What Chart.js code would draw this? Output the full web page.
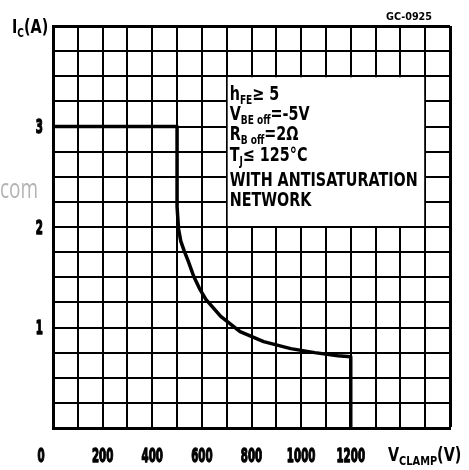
<!DOCTYPE html>
<html><head><meta charset="utf-8">
<script src="https://cdn.jsdelivr.net/npm/chart.js@4.4.0/dist/chart.umd.min.js"></script>
<style>html,body{margin:0;padding:0;background:#fff;overflow:hidden}canvas{display:block}</style>
</head><body>
<canvas id="c" width="469" height="470" style="width:469px;height:470px"></canvas>
<script>
// ---- data ----
const vClamp = [0, 500, 500, 506, 515, 529, 545, 567, 590, 616, 676, 754, 849, 958, 1055, 1148, 1200, 1200];
const iC     = [3.0, 3.0, 2.2, 1.98, 1.86, 1.76, 1.66, 1.51, 1.39, 1.28, 1.11, 0.96, 0.86, 0.79, 0.75, 0.72, 0.71, 0];
const xTickLabels = [0, 200, 400, 600, 800, 1000, 1200];
const yTickLabels = [1, 2, 3];
const noteBox = {x0: 700, x1: 1500, y0: 3.5, y1: 2.0};
const noteLines = [
  [['h', 0], ['FE', 1], ['\u2265 5', 0]],
  [['V', 0], ['BE', 1], [' off', 1], ['=-5V', 0]],
  [['R', 0], ['B', 1], [' off', 1], ['=2\u03A9', 0]],
  [['T', 0], ['J', 1], ['\u2264 125\u00B0C', 0]],
  [['WITH ANTISATURATION', 0]],
  [['NETWORK', 0]]
];
const yTitle = [['I', 0], ['C', 1], ['(A)', 0]];
const xTitle = [['V', 0], ['CLAMP', 1], ['(V)', 0]];
const figCode = 'GC-0925';

const FONT = '"DejaVu Sans Condensed","DejaVu Sans",sans-serif';

function drawRich(ctx, x, base, segs, size, subSize, sx) {
  ctx.save();
  ctx.translate(x, base);
  ctx.scale(sx, 1);
  ctx.fillStyle = '#000';
  ctx.textBaseline = 'alphabetic';
  ctx.textAlign = 'left';
  let cx = 0;
  for (const [t, sub] of segs) {
    const sz = sub ? subSize : size;
    ctx.font = 'bold ' + sz + 'px ' + FONT;
    ctx.fillText(t, cx, sub ? 4 : 0);
    cx += ctx.measureText(t).width;
  }
  ctx.restore();
}
function fitScale(ctx, text, size, target) {
  ctx.font = 'bold ' + size + 'px ' + FONT;
  return target / ctx.measureText(text).width;
}
// narrow tall tick text, anchored by align ('center' or 'right')
function drawTick(ctx, text, x, base, align) {
  const size = 19, sx = 0.6;
  ctx.save();
  ctx.font = 'bold ' + size + 'px ' + FONT;
  const w = ctx.measureText(text).width * sx;
  const left = align === 'right' ? x - w : x - w / 2;
  ctx.translate(left, base);
  ctx.scale(sx, 1);
  ctx.fillStyle = '#000';
  ctx.strokeStyle = '#000';
  ctx.lineWidth = 1.3;
  ctx.lineJoin = 'round';
  ctx.textBaseline = 'alphabetic';
  ctx.textAlign = 'left';
  ctx.fillText(text, 0, 0);
  ctx.strokeText(text, 0, 0);
  ctx.restore();
}

const overlay = {
  id: 'overlay',
  beforeDatasetsDraw(chart) {
    const ctx = chart.ctx, xs = chart.scales.x, ys = chart.scales.y;
    const l = xs.getPixelForValue(noteBox.x0) + 1, r = xs.getPixelForValue(noteBox.x1) - 1;
    const t = ys.getPixelForValue(noteBox.y0) + 1, b = ys.getPixelForValue(noteBox.y1) - 1;
    ctx.save();
    ctx.fillStyle = '#fff';
    ctx.fillRect(l, t, r - l, b - t);
    ctx.restore();
  },
  afterDraw(chart) {
    const ctx = chart.ctx, xs = chart.scales.x, ys = chart.scales.y;
    // tick labels taken from the library's own axis ticks
    xs.ticks.forEach((tk, i) => {
      if (!tk.label) return;
      const px = xs.getPixelForTick(i) + (tk.value === 0 ? -12 : 0);
      drawTick(ctx, String(tk.label), px, 462, 'center');
    });
    ys.ticks.forEach((tk, i) => {
      if (!tk.label) return;
      const py = ys.getPixelForTick(i);
      drawTick(ctx, String(tk.label), 43, py + 6.5, 'right');
    });
    const sx = fitScale(ctx, 'WITH ANTISATURATION', 19, 188);
    const left = xs.getPixelForValue(noteBox.x0) + 3;
    const top = ys.getPixelForValue(noteBox.y0);
    const bases = [24, 44, 64, 85, 110, 130];
    noteLines.forEach((segs, i) => drawRich(ctx, left, top + bases[i], segs, 19, 12, sx));
    // axis titles
    drawRich(ctx, 12, 33, yTitle, 19, 12, sx);
    drawRich(ctx, 388, 461, xTitle, 19, 13, sx);
    // figure code
    const s2 = fitScale(ctx, figCode, 10, 46);
    drawRich(ctx, 386, 20, [[figCode, 0]], 10, 7, s2);
    // watermark fragment
    ctx.save();
    ctx.fillStyle = '#b4b4b4';
    ctx.font = '28px "Open Sans", sans-serif';
    const w = ctx.measureText('com').width;
    ctx.translate(0, 198);
    ctx.scale(38 / w, 1);
    ctx.fillText('com', 0, 0);
    ctx.restore();
  }
};

const edgeW = (c, edge) => (c.tick && c.tick.value === edge ? 3 : 2);

new Chart(document.getElementById('c'), {
  type: 'scatter',
  data: {
    datasets: [{
      data: vClamp.map((v, i) => ({x: v, y: iC[i]})),
      showLine: true,
      borderColor: '#000',
      borderWidth: 3.5,
      pointRadius: 0,
      tension: 0,
      fill: false,
      borderJoinStyle: 'round'
    }]
  },
  options: {
    responsive: false,
    animation: false,
    devicePixelRatio: 1,
    layout: {padding: {top: 26, right: 19, left: 0, bottom: 0}},
    plugins: {legend: {display: false}, tooltip: {enabled: false}},
    scales: {
      x: {
        type: 'linear', min: 0, max: 1600,
        afterFit: s => { s.height = 42; },
        ticks: {
          stepSize: 100, autoSkip: false, maxRotation: 0, padding: 16,
          color: 'rgba(0,0,0,0)', font: {family: FONT, size: 14, weight: 'bold'},
          callback: v => (xTickLabels.includes(v) ? String(v) : '')
        },
        grid: {color: '#000', lineWidth: c => edgeW(c, 1600), drawTicks: false},
        border: {display: true, color: '#000', width: 3}
      },
      y: {
        type: 'linear', min: 0, max: 4,
        afterFit: s => { s.width = 53; },
        ticks: {
          stepSize: 0.25, autoSkip: false, padding: 11,
          color: 'rgba(0,0,0,0)', font: {family: FONT, size: 14, weight: 'bold'},
          callback: v => (yTickLabels.includes(v) ? String(v) : '')
        },
        grid: {color: '#000', lineWidth: c => edgeW(c, 4), drawTicks: false},
        border: {display: true, color: '#000', width: 3}
      }
    }
  },
  plugins: [overlay]
});
</script>
</body></html>
